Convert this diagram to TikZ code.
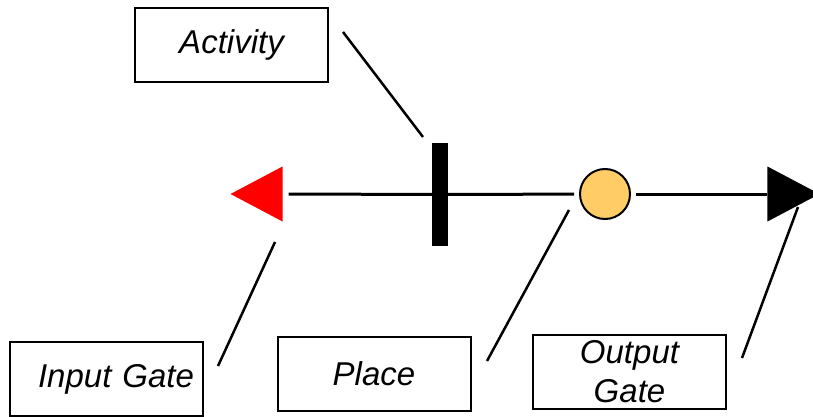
\documentclass[tikz,border=0pt]{standalone}
\usepackage{fontspec}
\setmainfont{Liberation Sans}
\usetikzlibrary{shapes.geometric}
\definecolor{placefill}{RGB}{255,204,102}
\definecolor{gatered}{RGB}{255,0,0}

\tikzset{
  namebox/.style={draw, line width=2pt, minimum width=193pt, minimum height=74pt,
    inner sep=0pt, align=center, font=\fontsize{33}{39}\selectfont\itshape},
  gatetri/.style={isosceles triangle, isosceles triangle stretches, inner sep=0pt,
    minimum width=55pt, minimum height=52pt, anchor=apex},
  wire/.style={line width=3pt},
  pointer/.style={line width=2.5pt}
}

\begin{document}
\begin{tikzpicture}[x=1pt, y=-1pt]
  \useasboundingbox (0,0) rectangle (813,417);

  % model elements on the main line
  \node[gatetri, fill=gatered, shape border rotate=180] (igate) at (230,194) {};
  \node[fill=black, inner sep=0pt, minimum width=16pt, minimum height=103pt] (act) at (440,194.5) {};
  \node[circle, draw, line width=2pt, fill=placefill, minimum size=50pt, inner sep=0pt] (plc) at (605,194) {};
  \node[gatetri, fill=black] (ogate) at (820,194) {};

  \draw[wire, shorten <=6pt] (igate.lower side) -- (act.center);
  \draw[wire, shorten >=5pt] (act.center) -- (plc);
  \draw[wire, shorten <=5pt] (plc) -- (ogate.lower side);

  % names of the elements
  \node[namebox] (actname) at (231.5,45) {Activity};
  \node[namebox, text width=175pt, align=right] (igatename) at (106.5,379) {Input Gate};
  \node[namebox] (plcname) at (374,374) {Place};
  \node[namebox] (ogatename) at (629.5,371.5) {Output\\Gate};

  % pointers from the names
  \coordinate (actfrom) at (343,32);
  \coordinate (actto) at (423,137);
  \coordinate (igatefrom) at (218,366);
  \coordinate (igateto) at (275,242);
  \coordinate (plcfrom) at (487,361);
  \coordinate (plcto) at (569,210);
  \coordinate (ogatefrom) at (742,358);
  \coordinate (ogateto) at (798,207);
  \draw[pointer] (actfrom) -- (actto);
  \draw[pointer] (igatefrom) -- (igateto);
  \draw[pointer] (plcfrom) -- (plcto);
  \draw[pointer] (ogatefrom) -- (ogateto);
\end{tikzpicture}
\end{document}
